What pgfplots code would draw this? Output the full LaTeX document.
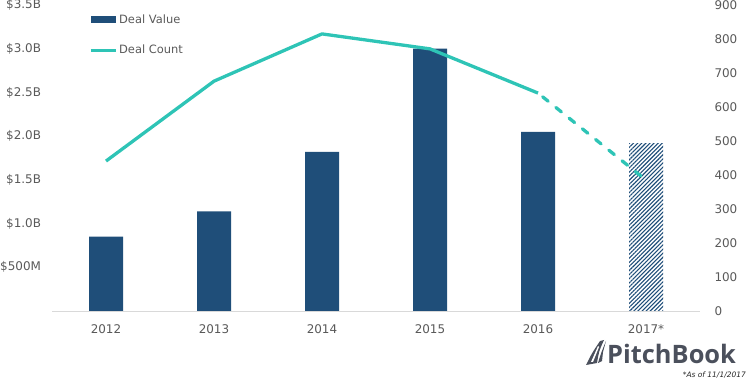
\documentclass[border=0pt]{standalone}
\usepackage{fontspec}
\setmainfont{DejaVu Sans}
\newfontfamily\logofont{Open Sans}
\usepackage{pgfplots}
\pgfplotsset{compat=1.18}
\usetikzlibrary{patterns.meta}
\definecolor{barblue}{HTML}{1F4E79}
\definecolor{linecol}{HTML}{2EC4B6}
\definecolor{txt}{HTML}{595959}
\definecolor{logo}{HTML}{4B505C}
\begin{document}
\begin{tikzpicture}
\useasboundingbox (0,0) rectangle (748bp,383bp);
\pgfplotsset{
  common/.style={
    at={(52bp,72bp)}, anchor=south west, scale only axis,
    width=648bp, height=306bp,
    xmin=-0.5, xmax=5.5,
    major tick length=0pt,
    /pgf/number format/assume math mode=true,
    tick label style={font=\fontsize{12}{14}\selectfont, text=txt},
  }
}
\begin{axis}[common,
  ymin=0, ymax=3.5,
  axis x line*=bottom, axis y line*=left,
  x axis line style={draw=black!15, line width=0.8pt, -},
  y axis line style={draw=none},
  xtick={0,1,2,3,4,5},
  xticklabels={2012,2013,2014,2015,2016,2017*},
  xticklabel style={yshift=-10bp},
  ytick={0.5,1,1.5,2,2.5,3,3.5},
  yticklabels={\$500M,\$1.0B,\$1.5B,\$2.0B,\$2.5B,\$3.0B,\$3.5B},
  yticklabel style={xshift=-7.5bp},
  legend style={at={(rel axis cs:0.057,0.975)}, anchor=north west, draw=none, fill=none,
    font=\fontsize{11.5}{13}\selectfont, text=txt, inner sep=0pt, row sep=16bp,
    /tikz/every even column/.append style={column sep=1bp}},
  legend cell align=left,
]
\addplot[ybar, bar width=34bp, bar shift=0pt, fill=barblue, draw=none,
  legend image code/.code={\fill[barblue] (0bp,-3.5bp) rectangle (25bp,3.5bp);}]
  coordinates {(0,0.85) (1,1.14) (2,1.82) (3,3.00) (4,2.05)};
\addlegendentry{Deal Value}
\addplot[ybar, bar width=34bp, bar shift=0pt, draw=none,
  pattern={Lines[angle=45, distance=2.9bp, line width=1.1bp]}, pattern color=barblue, forget plot]
  coordinates {(5,1.92)};
\addlegendimage{legend image code/.code={\draw[linecol, line width=3bp] (0bp,0bp) -- (25bp,0bp);}}
\addlegendentry{Deal Count}
\end{axis}
\begin{axis}[common,
  ymin=0, ymax=900,
  axis x line=none, axis y line*=right,
  y axis line style={draw=none},
  ytick={0,100,...,900},
  yticklabel style={xshift=11bp},
]
\addplot[linecol, line width=3.3bp, line join=round]
  coordinates {(0,441) (1,676) (2,815) (3,771) (4,641)};
\addplot[linecol, line width=3.3bp, line cap=round, dash pattern=on 7bp off 10bp, dash phase=-6bp]
  coordinates {(4,641) (5,385)};
\end{axis}
% logo
\fill[logo] (586bp,18bp) .. controls (592bp,30bp) .. (600bp,42bp) -- (604bp,43bp) .. controls (599bp,32bp) .. (597bp,20bp) -- cycle;
\fill[logo] (598bp,20bp) .. controls (601bp,30bp) .. (606bp,42bp) -- (603bp,31bp) -- (602bp,22bp) -- cycle;
\fill[white] (591bp,21bp) .. controls (595bp,30bp) .. (598bp,37bp) -- (599bp,36bp) .. controls (596bp,29bp) .. (593bp,21bp) -- cycle;
\node[anchor=west, inner sep=0pt, text=logo] at (607bp,29.5bp) {\logofont\bfseries\fontsize{25.5}{28}\selectfont PitchBook};
\node[anchor=east, inner sep=0pt, text=black!85] at (746bp,8bp) {\fontsize{7.5}{9}\selectfont\itshape *As of 11/1/2017};
\end{tikzpicture}
\end{document}
